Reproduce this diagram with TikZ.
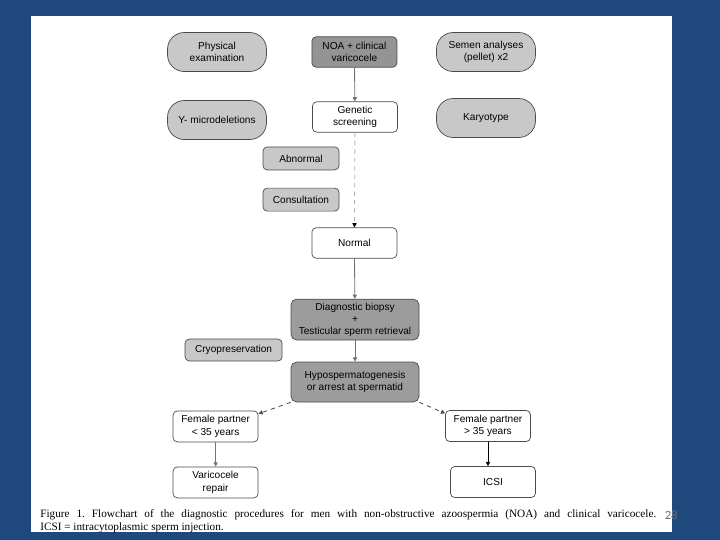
\documentclass[tikz,border=0pt]{standalone}
\usepackage{fontspec}
\usepackage{xcolor}
\usepackage{tikz}
\usetikzlibrary{arrows.meta, positioning}
\newfontfamily\boxfont{Liberation Sans}
\newfontfamily\capfont{Liberation Serif}
\newfontfamily\numfont{Carlito}
\definecolor{slide}{HTML}{1F497D}
\definecolor{lgray}{HTML}{C8C8C8}
\definecolor{dgray}{HTML}{9C9C9C}
\definecolor{edge}{HTML}{4A4A4A}

\begin{document}
\begin{tikzpicture}[
    base/.style={rectangle, draw=edge, line width=0.5pt, align=center, inner sep=1pt,
                font=\boxfont\fontsize{7.2}{8.6}\selectfont},
    oval/.style={base, rounded corners=0.42cm, fill=lgray, minimum width=2.475cm, minimum height=0.975cm},
    wbox/.style={base, rounded corners=3pt, fill=white, minimum width=2.125cm, minimum height=0.76cm},
    gbox/.style={base, rounded corners=3pt, fill=lgray, minimum width=1.9cm, minimum height=0.575cm},
    dbox/.style={base, rounded corners=4pt, fill=dgray, minimum width=3.2cm, minimum height=1.02cm},
    arr/.style={-{Triangle[length=3pt, width=3pt]}, gray!90!black, line width=0.6pt},
    darr/.style={arr, dashed, gray!60}
]
\useasboundingbox (0,0) rectangle (18,-13.5);
\fill[slide] (0,0) rectangle (18,-13.5);
\fill[white] (0.775,-0.4) rectangle (16.8,-13.3);

% top row
\node[oval] (phys) at (5.425,-1.3) {Physical\\examination};
\node[wbox, fill=dgray!95!black] (noa) at (8.86,-1.3) {NOA + clinical\\varicocele};
\node[oval] (semen) at (12.15,-1.3) {Semen analyses\\(pellet) x2};

% genetics
\node[oval] (ymic) at (5.425,-3.0) {Y- microdeletions};
\node[wbox] (gen) at (8.875,-2.925) {Genetic\\screening};
\node[oval] (karyo) at (12.15,-2.95) {Karyotype};
\node[gbox] (abn) at (7.525,-3.96) {Abnormal};
\node[gbox] (cons) at (7.525,-4.99) {Consultation};
\node[wbox] (norm) at (8.86,-6.075) {Normal};

% biopsy
\node[dbox] (biop) at (8.875,-7.99) {Diagnostic biopsy\\+\\Testicular sperm retrieval};
\node[gbox, minimum width=2.425cm, minimum height=0.55cm] (cryo) at (5.84,-8.75) {Cryopreservation};
\node[dbox, minimum height=1.0cm] (hypo) at (8.875,-9.55) {Hypospermatogenesis\\or arrest at spermatid};

% outcomes
\node[wbox, minimum height=0.775cm] (young) at (5.39,-10.66) {Female partner\\< 35 years};
\node[wbox, minimum height=0.775cm] (old) at (12.2,-10.65) {Female partner\\> 35 years};
\node[wbox, minimum height=0.775cm] (repair) at (5.39,-12.06) {Varicocele\\repair};
\node[wbox, minimum height=0.775cm] (icsi) at (12.325,-12.05) {ICSI};

\draw[arr] (noa) -- (gen);
\draw[darr, arrows={-{Triangle[length=3pt, width=3pt, black]}}] (gen) -- (norm);
\draw[arr] (norm) -- (biop);
\draw[arr] (biop) -- (hypo);
\draw[darr, black!70, arrows={-{Triangle[length=3pt, width=3pt]}}] (hypo.south west) -- ([yshift=-0.08cm]young.north east);
\draw[darr, black!70, arrows={-{Triangle[length=3pt, width=3pt]}}] (hypo.south east) -- ([yshift=-0.08cm]old.north west);
\draw[arr] (young) -- (repair);
\draw[arr, black] (old) -- (old |- icsi.north);

% caption
\node[anchor=north west, inner sep=0pt, text width=15.4cm, align=justify,
      font=\capfont\fontsize{8}{9}\selectfont] (cap) at (1.0,-12.74)
  {\frenchspacing Figure 1. Flowchart of the diagnostic procedures for men with non-obstructive azoospermia (NOA) and clinical varicocele.\linebreak
   ICSI = intracytoplasmic sperm injection.};
\node[font=\numfont\fontsize{9}{10}\selectfont, text=gray!70!slide] (num) at (16.78,-12.88) {28};
\end{tikzpicture}
\end{document}
